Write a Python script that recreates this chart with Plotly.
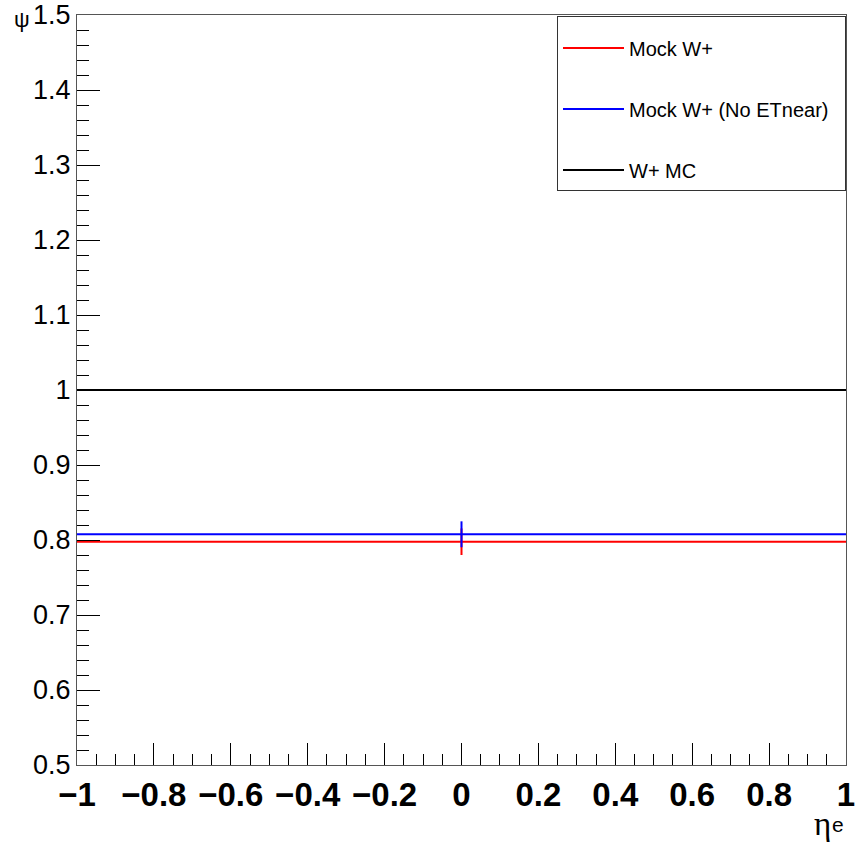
import plotly.graph_objects as go

# Data
x_edges = [-1.0, 1.0]
bin_center = 0.0
series_names = ["Mock W+", "Mock W+ (No ETnear)", "W+ MC"]
series_values = [0.7977, 0.8076, 1.0]
series_errors = [0.0177, 0.0173, 0.0]
series_colors = ["#ff0000", "#0000ff", "#000000"]

x_title_main = "η"
x_title_sup = "e"
y_title = "ψ"

fig = go.Figure()
for name, v, e, c in zip(series_names, series_values, series_errors, series_colors):
    xs = [x_edges[0], bin_center, x_edges[1]]
    ys = [v, v, v]
    label = name + ("\u00a0" * 2 if name == "Mock W+ (No ETnear)" else "")
    fig.add_trace(go.Scatter(
        x=xs, y=ys, mode="lines", name=label, legendgroup=name,
        line=dict(color=c, width=2),
        error_y=dict(type="data", array=[0, e, 0], visible=e > 0,
                     color=c, thickness=2, width=0),
        hoverinfo="skip",
    ))

font_family = "Liberation Sans, Arial, Helvetica, sans-serif"
axis_line = "#555555"

fig.update_layout(
    width=856, height=843,
    margin=dict(l=77, r=10, t=15, b=78, autoexpand=False),
    paper_bgcolor="white", plot_bgcolor="white",
    font=dict(family=font_family, color="black"),
    showlegend=True,
    legend=dict(
        x=1.0, y=0.999, xanchor="right", yanchor="top",
        bordercolor="#333333", borderwidth=1, bgcolor="white",
        font=dict(size=20, family=font_family, color="black"),
        tracegroupgap=32, itemwidth=61,
        title=dict(text="\u00a0", font=dict(size=9)),
    ),
    xaxis=dict(
        range=[-1, 1], tick0=-1, dtick=0.2, automargin=False,
        ticks="inside", ticklen=22, tickwidth=1, tickcolor="black",
        minor=dict(dtick=0.05, tick0=-1, ticks="inside", ticklen=11,
                   tickwidth=1, tickcolor="black", showgrid=False),
        showline=True, mirror=True, linecolor=axis_line, linewidth=1,
        showgrid=False, zeroline=False, ticklabeloverflow="allow",
        tickfont=dict(size=33, family=font_family, color="black", weight="bold"),
    ),
    yaxis=dict(
        range=[0.5, 1.5], tick0=0.5, dtick=0.1, automargin=False,
        ticks="inside", ticklen=23, tickwidth=1, tickcolor="black",
        minor=dict(dtick=0.02, tick0=0.5, ticks="inside", ticklen=12,
                   tickwidth=1, tickcolor="black", showgrid=False),
        showline=True, mirror=True, linecolor=axis_line, linewidth=1,
        showgrid=False, zeroline=False, ticklabeloverflow="allow",
        tickfont=dict(size=27, family=font_family, color="black"),
    ),
    annotations=[
        dict(text=y_title, xref="paper", yref="paper", x=-0.071, y=0.994,
             xanchor="center", yanchor="middle", showarrow=False,
             font=dict(size=22, family=font_family, color="black")),
        dict(text=x_title_main, xref="paper", yref="paper", x=0.970, y=-0.078,
             xanchor="center", yanchor="middle", showarrow=False,
             font=dict(size=33, family="Liberation Serif, DejaVu Serif, serif",
                       color="black")),
        dict(text=x_title_sup, xref="paper", yref="paper", x=0.990, y=-0.079,
             xanchor="center", yanchor="middle", showarrow=False,
             font=dict(size=21, family=font_family, color="black")),
    ],
)

fig.write_html(
    "out.html",
    config={"displayModeBar": False},
    post_script="document.body.style.margin='0';document.body.style.overflow='hidden';",
)
